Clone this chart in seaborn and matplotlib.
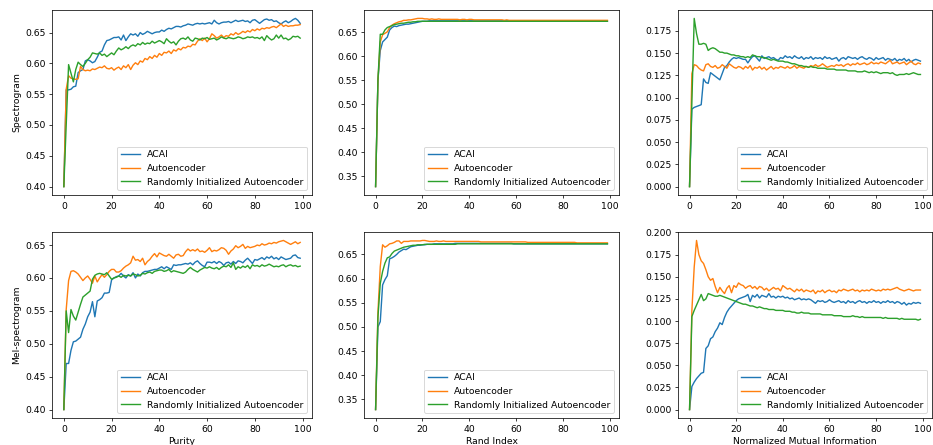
import matplotlib
matplotlib.use("Agg")
import matplotlib.pyplot as plt
import pandas as pd
import seaborn as sns

epochs = list(range(100))
methods = ["ACAI", "Autoencoder", "Randomly Initialized Autoencoder"]
colors = ["#1f77b4", "#ff7f0e", "#2ca02c"]
metrics = ["Purity", "Rand Index", "Normalized Mutual Information"]
features = ["Spectrogram", "Mel-spectrogram"]

# ---------------- Spectrogram ----------------
spec_purity_acai = [
    0.400, 0.557, 0.557, 0.558, 0.562, 0.563, 0.585, 0.588, 0.590, 0.604,
    0.606, 0.604, 0.601, 0.603, 0.610, 0.618, 0.620, 0.630, 0.637, 0.638,
    0.640, 0.642, 0.642, 0.643, 0.638, 0.646, 0.637, 0.643, 0.648, 0.646,
    0.648, 0.644, 0.650, 0.647, 0.649, 0.652, 0.650, 0.648, 0.650, 0.651,
    0.651, 0.654, 0.652, 0.655, 0.657, 0.656, 0.658, 0.660, 0.660, 0.659,
    0.661, 0.662, 0.664, 0.663, 0.662, 0.664, 0.665, 0.664, 0.665, 0.664,
    0.665, 0.666, 0.664, 0.670, 0.666, 0.664, 0.666, 0.667, 0.667, 0.668,
    0.666, 0.668, 0.670, 0.668, 0.669, 0.670, 0.668, 0.669, 0.666, 0.670,
    0.671, 0.668, 0.665, 0.668, 0.671, 0.672, 0.670, 0.671, 0.668, 0.669,
    0.666, 0.664, 0.667, 0.669, 0.666, 0.668, 0.671, 0.673, 0.670, 0.665]
spec_purity_ae = [
    0.400, 0.558, 0.580, 0.576, 0.575, 0.574, 0.575, 0.595, 0.590, 0.588,
    0.589, 0.588, 0.591, 0.590, 0.592, 0.594, 0.593, 0.596, 0.592, 0.591,
    0.593, 0.589, 0.592, 0.594, 0.590, 0.596, 0.593, 0.598, 0.590, 0.597,
    0.601, 0.598, 0.604, 0.602, 0.608, 0.606, 0.611, 0.608, 0.613, 0.610,
    0.616, 0.613, 0.618, 0.617, 0.620, 0.616, 0.622, 0.620, 0.624, 0.622,
    0.626, 0.625, 0.628, 0.627, 0.631, 0.630, 0.636, 0.640, 0.637, 0.641,
    0.635, 0.640, 0.648, 0.645, 0.641, 0.643, 0.646, 0.642, 0.645, 0.644,
    0.648, 0.646, 0.650, 0.647, 0.649, 0.652, 0.650, 0.653, 0.651, 0.655,
    0.653, 0.656, 0.654, 0.657, 0.656, 0.658, 0.657, 0.659, 0.660, 0.658,
    0.661, 0.664, 0.660, 0.662, 0.660, 0.661, 0.661, 0.662, 0.662, 0.663]
spec_purity_rand = [
    0.400, 0.500, 0.598, 0.584, 0.570, 0.590, 0.602, 0.598, 0.595, 0.600,
    0.606, 0.610, 0.617, 0.616, 0.615, 0.617, 0.613, 0.615, 0.611, 0.614,
    0.617, 0.614, 0.620, 0.625, 0.622, 0.624, 0.627, 0.624, 0.628, 0.630,
    0.628, 0.632, 0.630, 0.634, 0.631, 0.633, 0.632, 0.636, 0.633, 0.635,
    0.637, 0.635, 0.632, 0.640, 0.636, 0.633, 0.635, 0.630, 0.636, 0.640,
    0.641, 0.639, 0.643, 0.638, 0.636, 0.641, 0.640, 0.638, 0.641, 0.640,
    0.642, 0.639, 0.640, 0.641, 0.638, 0.640, 0.643, 0.641, 0.640, 0.642,
    0.641, 0.640, 0.641, 0.643, 0.642, 0.640, 0.641, 0.643, 0.642, 0.643,
    0.641, 0.642, 0.640, 0.643, 0.637, 0.645, 0.641, 0.638, 0.640, 0.646,
    0.641, 0.646, 0.640, 0.641, 0.638, 0.640, 0.644, 0.643, 0.644, 0.641]

spec_rand_acai = [
    0.329, 0.550, 0.612, 0.630, 0.635, 0.640, 0.655, 0.660, 0.663, 0.662,
    0.664, 0.665, 0.666, 0.667, 0.667, 0.668, 0.669, 0.670, 0.671, 0.672,
    0.673, 0.673, 0.673, 0.674, 0.674, 0.674, 0.674, 0.674, 0.674, 0.674,
    0.674, 0.674, 0.674, 0.674, 0.674, 0.674, 0.674, 0.674, 0.674, 0.674,
    0.674, 0.674, 0.674, 0.674, 0.674, 0.674, 0.674, 0.674, 0.674, 0.674,
    0.674, 0.674, 0.674, 0.674, 0.674, 0.674, 0.674, 0.674, 0.674, 0.674,
    0.674, 0.674, 0.674, 0.674, 0.674, 0.674, 0.674, 0.674, 0.674, 0.674,
    0.674, 0.674, 0.674, 0.674, 0.674, 0.674, 0.674, 0.674, 0.674, 0.674,
    0.674, 0.674, 0.674, 0.674, 0.674, 0.674, 0.674, 0.674, 0.674, 0.674,
    0.674, 0.674, 0.674, 0.674, 0.674, 0.674, 0.674, 0.674, 0.673, 0.673]
spec_rand_ae = [
    0.329, 0.550, 0.630, 0.645, 0.648, 0.651, 0.660, 0.665, 0.668, 0.670,
    0.672, 0.673, 0.675, 0.675, 0.676, 0.676, 0.677, 0.678, 0.679, 0.679,
    0.679, 0.678, 0.678, 0.677, 0.678, 0.677, 0.677, 0.678, 0.677, 0.677,
    0.677, 0.677, 0.677, 0.677, 0.677, 0.677, 0.676, 0.677, 0.677, 0.676,
    0.677, 0.677, 0.676, 0.676, 0.676, 0.676, 0.676, 0.676, 0.676, 0.676,
    0.676, 0.676, 0.676, 0.676, 0.676, 0.675, 0.676, 0.675, 0.675, 0.675,
    0.675, 0.675, 0.675, 0.675, 0.675, 0.675, 0.675, 0.675, 0.675, 0.675,
    0.675, 0.675, 0.675, 0.675, 0.675, 0.675, 0.675, 0.675, 0.675, 0.675,
    0.675, 0.675, 0.675, 0.675, 0.675, 0.675, 0.675, 0.675, 0.675, 0.675,
    0.675, 0.675, 0.675, 0.675, 0.675, 0.675, 0.675, 0.675, 0.675, 0.675]
spec_rand_rand = [
    0.329, 0.550, 0.646, 0.646, 0.655, 0.660, 0.662, 0.664, 0.666, 0.667,
    0.668, 0.669, 0.669, 0.670, 0.671, 0.671, 0.672, 0.672, 0.673, 0.673,
    0.673, 0.673, 0.673, 0.673, 0.673, 0.673, 0.673, 0.673, 0.673, 0.673,
    0.673, 0.673, 0.673, 0.673, 0.673, 0.673, 0.673, 0.673, 0.673, 0.673,
    0.673, 0.673, 0.673, 0.673, 0.673, 0.673, 0.673, 0.673, 0.673, 0.673,
    0.673, 0.673, 0.673, 0.673, 0.673, 0.673, 0.673, 0.673, 0.673, 0.673,
    0.673, 0.673, 0.673, 0.673, 0.673, 0.673, 0.673, 0.673, 0.673, 0.673,
    0.673, 0.673, 0.673, 0.673, 0.673, 0.673, 0.673, 0.673, 0.673, 0.673,
    0.673, 0.673, 0.673, 0.673, 0.673, 0.673, 0.673, 0.673, 0.673, 0.673,
    0.673, 0.673, 0.673, 0.673, 0.673, 0.673, 0.673, 0.673, 0.673, 0.673]

spec_nmi_acai = [
    0.000, 0.087, 0.089, 0.090, 0.091, 0.092, 0.121, 0.117, 0.116, 0.128,
    0.126, 0.124, 0.122, 0.120, 0.127, 0.134, 0.136, 0.140, 0.143, 0.145,
    0.144, 0.145, 0.144, 0.143, 0.143, 0.139, 0.143, 0.146, 0.147, 0.144,
    0.141, 0.147, 0.144, 0.145, 0.146, 0.144, 0.145, 0.143, 0.142, 0.145,
    0.144, 0.147, 0.145, 0.146, 0.144, 0.147, 0.145, 0.144, 0.146, 0.143,
    0.145, 0.144, 0.146, 0.143, 0.145, 0.144, 0.145, 0.143, 0.146, 0.144,
    0.145, 0.143, 0.144, 0.145, 0.141, 0.144, 0.145, 0.143, 0.146, 0.145,
    0.144, 0.145, 0.143, 0.145, 0.146, 0.144, 0.143, 0.145, 0.144, 0.142,
    0.145, 0.143, 0.144, 0.145, 0.142, 0.144, 0.143, 0.142, 0.144, 0.141,
    0.143, 0.142, 0.144, 0.141, 0.143, 0.140, 0.142, 0.143, 0.142, 0.141]
spec_nmi_ae = [
    0.000, 0.127, 0.137, 0.136, 0.133, 0.131, 0.130, 0.137, 0.138, 0.135,
    0.134, 0.136, 0.133, 0.134, 0.137, 0.135, 0.133, 0.138, 0.136, 0.134,
    0.133, 0.135, 0.134, 0.132, 0.135, 0.133, 0.136, 0.131, 0.134, 0.133,
    0.135, 0.132, 0.134, 0.131, 0.133, 0.135, 0.132, 0.134, 0.133, 0.135,
    0.134, 0.133, 0.135, 0.133, 0.134, 0.136, 0.133, 0.135, 0.134, 0.133,
    0.135, 0.134, 0.136, 0.135, 0.137, 0.135, 0.136, 0.138, 0.136, 0.134,
    0.135, 0.136, 0.135, 0.137, 0.136, 0.137, 0.135, 0.137, 0.138, 0.136,
    0.138, 0.137, 0.139, 0.137, 0.138, 0.139, 0.137, 0.138, 0.140, 0.138,
    0.139, 0.138, 0.140, 0.139, 0.138, 0.140, 0.142, 0.138, 0.139, 0.140,
    0.138, 0.139, 0.140, 0.137, 0.139, 0.141, 0.138, 0.137, 0.139, 0.138]
spec_nmi_rand = [
    0.000, 0.095, 0.189, 0.172, 0.160, 0.160, 0.161, 0.160, 0.153, 0.155,
    0.156, 0.155, 0.153, 0.151, 0.151, 0.150, 0.150, 0.149, 0.148, 0.148,
    0.147, 0.147, 0.146, 0.146, 0.145, 0.146, 0.145, 0.148, 0.147, 0.146,
    0.146, 0.145, 0.145, 0.144, 0.143, 0.142, 0.143, 0.142, 0.141, 0.141,
    0.141, 0.140, 0.140, 0.139, 0.138, 0.138, 0.137, 0.136, 0.136, 0.135,
    0.135, 0.134, 0.135, 0.134, 0.134, 0.133, 0.133, 0.133, 0.133, 0.132,
    0.132, 0.132, 0.132, 0.131, 0.131, 0.131, 0.131, 0.131, 0.130, 0.130,
    0.130, 0.130, 0.129, 0.129, 0.129, 0.130, 0.129, 0.128, 0.129, 0.128,
    0.129, 0.128, 0.127, 0.128, 0.128, 0.128, 0.127, 0.128, 0.126, 0.125,
    0.126, 0.126, 0.126, 0.127, 0.126, 0.127, 0.128, 0.127, 0.126, 0.126]

# ---------------- Mel-spectrogram ----------------
mel_purity_acai = [
    0.400, 0.470, 0.470, 0.490, 0.503, 0.504, 0.507, 0.510, 0.522, 0.530,
    0.541, 0.548, 0.564, 0.541, 0.565, 0.567, 0.570, 0.577, 0.577, 0.578,
    0.597, 0.600, 0.602, 0.603, 0.607, 0.603, 0.600, 0.605, 0.603, 0.608,
    0.600, 0.606, 0.603, 0.608, 0.610, 0.610, 0.611, 0.612, 0.613, 0.613,
    0.615, 0.617, 0.614, 0.617, 0.615, 0.613, 0.620, 0.619, 0.620, 0.620,
    0.621, 0.622, 0.621, 0.623, 0.620, 0.624, 0.626, 0.622, 0.619, 0.617,
    0.624, 0.624, 0.623, 0.625, 0.622, 0.625, 0.623, 0.619, 0.623, 0.624,
    0.621, 0.625, 0.622, 0.626, 0.625, 0.623, 0.627, 0.630, 0.626, 0.622,
    0.628, 0.627, 0.629, 0.631, 0.628, 0.632, 0.630, 0.633, 0.629, 0.631,
    0.628, 0.632, 0.630, 0.628, 0.629, 0.630, 0.634, 0.635, 0.631, 0.630]
mel_purity_ae = [
    0.400, 0.552, 0.596, 0.610, 0.611, 0.609, 0.606, 0.601, 0.596, 0.600,
    0.603, 0.598, 0.592, 0.603, 0.594, 0.600, 0.605, 0.601, 0.605, 0.610,
    0.613, 0.613, 0.609, 0.609, 0.611, 0.615, 0.618, 0.620, 0.623, 0.633,
    0.627, 0.628, 0.625, 0.630, 0.620, 0.625, 0.628, 0.633, 0.637, 0.632,
    0.638, 0.636, 0.634, 0.633, 0.636, 0.633, 0.630, 0.635, 0.636, 0.633,
    0.634, 0.640, 0.644, 0.641, 0.643, 0.641, 0.644, 0.640, 0.641, 0.639,
    0.642, 0.646, 0.640, 0.642, 0.641, 0.643, 0.646, 0.645, 0.642, 0.636,
    0.641, 0.644, 0.649, 0.646, 0.648, 0.651, 0.645, 0.648, 0.646, 0.647,
    0.648, 0.650, 0.649, 0.652, 0.650, 0.651, 0.653, 0.652, 0.654, 0.653,
    0.655, 0.656, 0.657, 0.655, 0.653, 0.651, 0.653, 0.655, 0.652, 0.654]
mel_purity_rand = [
    0.400, 0.550, 0.517, 0.552, 0.542, 0.536, 0.548, 0.560, 0.571, 0.574,
    0.577, 0.580, 0.598, 0.604, 0.606, 0.607, 0.606, 0.605, 0.608, 0.603,
    0.598, 0.600, 0.601, 0.603, 0.601, 0.604, 0.603, 0.604, 0.603, 0.606,
    0.605, 0.603, 0.604, 0.607, 0.606, 0.608, 0.609, 0.607, 0.610, 0.611,
    0.612, 0.612, 0.610, 0.611, 0.613, 0.609, 0.611, 0.610, 0.609, 0.608,
    0.607, 0.609, 0.613, 0.616, 0.613, 0.611, 0.609, 0.612, 0.614, 0.616,
    0.615, 0.617, 0.615, 0.614, 0.616, 0.613, 0.616, 0.618, 0.617, 0.620,
    0.616, 0.623, 0.613, 0.617, 0.615, 0.618, 0.616, 0.619, 0.614, 0.620,
    0.618, 0.619, 0.617, 0.620, 0.618, 0.619, 0.621, 0.619, 0.617, 0.618,
    0.617, 0.619, 0.620, 0.617, 0.619, 0.620, 0.618, 0.619, 0.617, 0.618]

mel_rand_acai = [
    0.329, 0.500, 0.511, 0.587, 0.598, 0.606, 0.641, 0.643, 0.646, 0.650,
    0.655, 0.658, 0.661, 0.660, 0.663, 0.666, 0.667, 0.668, 0.669, 0.669,
    0.670, 0.670, 0.671, 0.671, 0.671, 0.672, 0.672, 0.672, 0.672, 0.672,
    0.672, 0.672, 0.672, 0.672, 0.673, 0.673, 0.673, 0.673, 0.673, 0.673,
    0.673, 0.673, 0.673, 0.673, 0.673, 0.673, 0.673, 0.673, 0.673, 0.673,
    0.673, 0.673, 0.673, 0.673, 0.673, 0.673, 0.673, 0.673, 0.673, 0.672,
    0.672, 0.672, 0.672, 0.672, 0.672, 0.672, 0.672, 0.672, 0.672, 0.672,
    0.672, 0.672, 0.672, 0.672, 0.672, 0.672, 0.672, 0.672, 0.672, 0.672,
    0.672, 0.672, 0.672, 0.672, 0.672, 0.672, 0.672, 0.672, 0.672, 0.672,
    0.672, 0.672, 0.672, 0.672, 0.672, 0.672, 0.672, 0.672, 0.672, 0.672]
mel_rand_ae = [
    0.329, 0.530, 0.625, 0.670, 0.665, 0.668, 0.672, 0.673, 0.675, 0.678,
    0.678, 0.673, 0.677, 0.677, 0.677, 0.678, 0.678, 0.678, 0.678, 0.678,
    0.679, 0.679, 0.678, 0.677, 0.677, 0.677, 0.678, 0.677, 0.677, 0.678,
    0.677, 0.677, 0.677, 0.677, 0.677, 0.677, 0.677, 0.677, 0.677, 0.677,
    0.677, 0.677, 0.677, 0.677, 0.677, 0.676, 0.676, 0.676, 0.676, 0.676,
    0.676, 0.676, 0.676, 0.676, 0.676, 0.676, 0.676, 0.676, 0.676, 0.676,
    0.676, 0.676, 0.676, 0.676, 0.676, 0.675, 0.675, 0.675, 0.675, 0.675,
    0.675, 0.675, 0.675, 0.675, 0.675, 0.675, 0.675, 0.675, 0.675, 0.675,
    0.675, 0.675, 0.675, 0.675, 0.675, 0.675, 0.674, 0.674, 0.674, 0.674,
    0.674, 0.674, 0.674, 0.674, 0.674, 0.674, 0.674, 0.674, 0.674, 0.674]
mel_rand_rand = [
    0.329, 0.520, 0.590, 0.615, 0.632, 0.643, 0.645, 0.652, 0.657, 0.659,
    0.661, 0.663, 0.665, 0.666, 0.667, 0.668, 0.669, 0.669, 0.670, 0.670,
    0.670, 0.671, 0.671, 0.671, 0.671, 0.671, 0.671, 0.671, 0.671, 0.671,
    0.671, 0.671, 0.671, 0.671, 0.671, 0.672, 0.672, 0.672, 0.672, 0.672,
    0.672, 0.672, 0.672, 0.672, 0.672, 0.672, 0.672, 0.672, 0.672, 0.672,
    0.672, 0.672, 0.672, 0.672, 0.672, 0.672, 0.672, 0.672, 0.672, 0.672,
    0.672, 0.672, 0.672, 0.672, 0.672, 0.672, 0.672, 0.672, 0.672, 0.672,
    0.672, 0.672, 0.672, 0.672, 0.672, 0.672, 0.672, 0.672, 0.672, 0.672,
    0.672, 0.672, 0.672, 0.672, 0.672, 0.672, 0.672, 0.672, 0.672, 0.672,
    0.672, 0.672, 0.672, 0.672, 0.672, 0.672, 0.672, 0.672, 0.672, 0.672]

mel_nmi_acai = [
    0.000, 0.026, 0.031, 0.035, 0.038, 0.041, 0.042, 0.069, 0.072, 0.080,
    0.082, 0.088, 0.092, 0.098, 0.096, 0.104, 0.110, 0.114, 0.117, 0.120,
    0.123, 0.125, 0.126, 0.127, 0.128, 0.130, 0.122, 0.129, 0.127, 0.130,
    0.126, 0.129, 0.128, 0.127, 0.131, 0.127, 0.128, 0.126, 0.128, 0.127,
    0.128, 0.126, 0.127, 0.125, 0.126, 0.124, 0.125, 0.126, 0.124, 0.125,
    0.124, 0.125, 0.124, 0.122, 0.120, 0.123, 0.122, 0.123, 0.121, 0.122,
    0.124, 0.122, 0.121, 0.122, 0.123, 0.121, 0.122, 0.120, 0.123, 0.121,
    0.122, 0.120, 0.122, 0.123, 0.121, 0.122, 0.120, 0.122, 0.121, 0.123,
    0.121, 0.122, 0.120, 0.122, 0.121, 0.123, 0.121, 0.122, 0.120, 0.122,
    0.121, 0.119, 0.121, 0.118, 0.120, 0.119, 0.121, 0.120, 0.121, 0.120]
mel_nmi_ae = [
    0.000, 0.112, 0.161, 0.191, 0.175, 0.168, 0.165, 0.158, 0.150, 0.146,
    0.148, 0.139, 0.132, 0.138, 0.134, 0.131, 0.137, 0.140, 0.132, 0.140,
    0.138, 0.143, 0.141, 0.140, 0.137, 0.139, 0.140, 0.137, 0.139, 0.136,
    0.139, 0.138, 0.135, 0.137, 0.134, 0.136, 0.138, 0.136, 0.137, 0.134,
    0.140, 0.138, 0.136, 0.137, 0.135, 0.133, 0.136, 0.134, 0.136, 0.133,
    0.135, 0.134, 0.133, 0.135, 0.131, 0.134, 0.133, 0.135, 0.132, 0.134,
    0.135, 0.133, 0.134, 0.132, 0.135, 0.134, 0.136, 0.135, 0.134, 0.135,
    0.136, 0.134, 0.135, 0.133, 0.135, 0.134, 0.135, 0.134, 0.136, 0.135,
    0.134, 0.135, 0.134, 0.136, 0.135, 0.136, 0.135, 0.136, 0.137, 0.138,
    0.136, 0.135, 0.134, 0.135, 0.136, 0.135, 0.134, 0.135, 0.135, 0.135]
mel_nmi_rand = [
    0.000, 0.105, 0.112, 0.118, 0.124, 0.130, 0.123, 0.125, 0.131, 0.130,
    0.129, 0.128, 0.128, 0.129, 0.128, 0.127, 0.126, 0.125, 0.124, 0.123,
    0.122, 0.121, 0.120, 0.119, 0.119, 0.118, 0.117, 0.117, 0.116, 0.115,
    0.116, 0.115, 0.114, 0.114, 0.113, 0.113, 0.113, 0.112, 0.112, 0.112,
    0.112, 0.111, 0.111, 0.111, 0.110, 0.110, 0.109, 0.109, 0.110, 0.109,
    0.109, 0.109, 0.108, 0.108, 0.108, 0.108, 0.108, 0.107, 0.107, 0.107,
    0.107, 0.107, 0.106, 0.106, 0.106, 0.106, 0.105, 0.105, 0.105, 0.105,
    0.106, 0.105, 0.105, 0.104, 0.105, 0.104, 0.104, 0.104, 0.104, 0.104,
    0.104, 0.104, 0.104, 0.103, 0.104, 0.103, 0.103, 0.103, 0.103, 0.103,
    0.102, 0.103, 0.102, 0.102, 0.102, 0.102, 0.102, 0.102, 0.101, 0.102]

panels = [
    [(spec_purity_acai, spec_purity_ae, spec_purity_rand),
     (spec_rand_acai, spec_rand_ae, spec_rand_rand),
     (spec_nmi_acai, spec_nmi_ae, spec_nmi_rand)],
    [(mel_purity_acai, mel_purity_ae, mel_purity_rand),
     (mel_rand_acai, mel_rand_ae, mel_rand_rand),
     (mel_nmi_acai, mel_nmi_ae, mel_nmi_rand)],
]

DPI = 67
fig, axes = plt.subplots(2, 3, figsize=(933 / DPI, 445 / DPI), dpi=DPI)

W, H = 933.0, 445.0
col_px = [(52, 312), (364, 619), (678, 932)]
row_px = [(10, 195), (232, 418)]

for r in range(2):
    for c in range(3):
        ax = axes[r][c]
        l, rr = col_px[c]
        t, b = row_px[r]
        ax.set_position([l / W, 1 - b / H, (rr - l) / W, (b - t) / H])
        series = panels[r][c]
        for name, color, vals in zip(methods, colors, series):
            assert len(vals) == len(epochs)
            df = pd.DataFrame({"epoch": epochs, "score": vals})
            sns.lineplot(data=df, x="epoch", y="score", color=color,
                         label=name, ax=ax, linewidth=1.5)
        ax.set_xticks([0, 20, 40, 60, 80, 100])
        ax.legend(loc="lower right")
        ax.set_ylabel(features[r] if c == 0 else "")
        ax.set_xlabel(metrics[c] if r == 1 else "")

fig.savefig("out.png", dpi=DPI)
